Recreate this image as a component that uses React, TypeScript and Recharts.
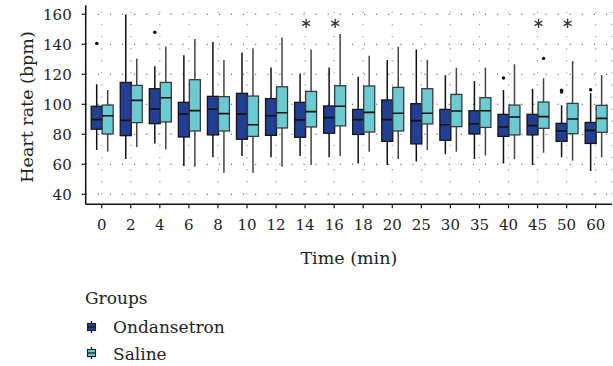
import React from 'react';
import { ComposedChart, Bar, Scatter, XAxis, YAxis, CartesianGrid, Legend } from 'recharts';

const FONT = '"DejaVu Serif", serif';

const times = ['0', '2', '4', '6', '8', '10', '12', '14', '16', '18', '20', '25', '30', '35', '40', '45', '50', '60'];

// Ondansetron group: whisker ends, quartiles, median, outliers
const ondMin = [69.6, 63.5, 73.8, 58.9, 64.7, 65.6, 64.7, 65.6, 64.7, 60.6, 59.5, 61.8, 66.7, 63.5, 60.6, 59.5, 64.7, 55.5];
const ondQ1 = [83.4, 79.1, 87.1, 78.2, 79.6, 76.7, 79.3, 78.0, 80.7, 79.9, 75.3, 73.6, 76.0, 80.2, 78.6, 79.6, 75.3, 73.9];
const ondMed = [89.8, 89.3, 96.9, 93.5, 96.7, 93.6, 92.4, 89.6, 91.1, 89.8, 89.8, 89.1, 86.4, 87.0, 84.9, 85.8, 82.2, 82.6];
const ondQ3 = [98.7, 114.6, 110.4, 101.3, 105.3, 107.3, 103.8, 101.3, 98.9, 96.6, 102.9, 100.4, 96.6, 95.7, 93.3, 93.3, 87.3, 87.9];
const ondMax = [113.3, 159.8, 125.3, 132.7, 141.5, 134.6, 124.6, 120.6, 124.6, 118.4, 129.5, 136.6, 119.3, 115.5, 109.5, 110.4, 99.3, 107.3];
const ondOut = [[140.6], [], [148], [], [], [], [], [], [], [], [], [], [], [], [117.5], [], [109.4, 108.2], [109.7]];

// Saline group
const salMin = [68.5, 71.6, 69.8, 58.4, 54.4, 54.4, 58.4, 59.5, 65.6, 68.4, 63.5, 69.6, 68.4, 65.8, 63.5, 67.7, 62.4, 64.7];
const salQ1 = [80.2, 87.8, 88.2, 82.2, 82.2, 78.6, 84.2, 84.9, 85.6, 81.5, 82.2, 86.9, 85.1, 84.6, 79.6, 84.0, 80.4, 81.3];
const salMed = [92.4, 102.6, 104.4, 95.8, 93.8, 86.4, 94.4, 95.1, 98.7, 94.6, 94.0, 94.0, 95.5, 95.7, 91.5, 91.8, 90.2, 90.6];
const salQ3 = [99.5, 112.6, 114.6, 116.4, 105.1, 105.5, 111.7, 108.6, 112.4, 112.2, 111.3, 110.4, 106.6, 104.4, 99.5, 101.5, 100.6, 99.3];
const salMax = [109.5, 130.4, 138.6, 143.5, 129.6, 137.3, 144.6, 136.6, 146.8, 132.4, 138.4, 129.5, 124.4, 124.4, 126.7, 117.3, 128.8, 119.5];
const salOut = [[], [], [], [], [], [], [], [], [], [], [], [], [], [], [], [130.6], [], []];

// significance asterisks
const sigMarks = [null, null, null, null, null, null, null, 154, 154, null, null, null, null, null, null, 154, 154, null];

const yTicks = [40, 60, 80, 100, 120, 140, 160];
const gridValues = [40, 50, 60, 70, 80, 90, 100, 110, 120, 130, 140, 150, 160];
const groups = ['Ondansetron', 'Saline'];

const styles: Record<string, { fill: string; stroke: string; whisker: string }> = {
  ond: { fill: '#233F94', stroke: '#141414', whisker: '#111' },
  sal: { fill: '#6BCBD3', stroke: '#3a3a3a', whisker: '#444' },
};

const rows = times.map((t, i) => ({
  time: t,
  ond: { lo: ondMin[i], q1: ondQ1[i], med: ondMed[i], q3: ondQ3[i], hi: ondMax[i], out: ondOut[i] },
  sal: { lo: salMin[i], q1: salQ1[i], med: salMed[i], q3: salQ3[i], hi: salMax[i], out: salOut[i] },
  sig: sigMarks[i],
}));

function BoxShape(props: any) {
  const { x, y, width, height, payload, group } = props;
  const st = payload[group];
  const s = styles[group];
  const top = Math.min(y, y + height);
  const bot = Math.max(y, y + height);
  const py = (v: number) => bot - ((v - st.lo) / (st.hi - st.lo)) * (bot - top);
  const cx = x + width / 2;
  return (
    <g>
      <line x1={cx} x2={cx} y1={py(st.hi)} y2={py(st.q3)} stroke={s.whisker} strokeWidth={1.5} />
      <line x1={cx} x2={cx} y1={py(st.q1)} y2={py(st.lo)} stroke={s.whisker} strokeWidth={1.5} />
      <rect x={x} y={py(st.q3)} width={width} height={py(st.q1) - py(st.q3)} fill={s.fill} stroke={s.stroke} strokeWidth={1.3} />
      <line x1={x} x2={x + width} y1={py(st.med)} y2={py(st.med)} stroke="#111" strokeWidth={1.6} />
      {st.out.map((v: number, i: number) => (
        <circle key={i} cx={cx} cy={py(v)} r={1.7} fill="#111" />
      ))}
    </g>
  );
}

function StarShape(props: any) {
  const { cx, cy, payload } = props;
  if (!payload || payload.sig == null || !isFinite(cy)) return <g />;
  const r = 4.6;
  const x0 = cx + 1;
  const arms = [90, 30, -30].map((a) => {
    const rad = (a * Math.PI) / 180;
    const dx = Math.cos(rad) * r;
    const dy = Math.sin(rad) * r;
    return `M${x0 - dx},${cy + dy}L${x0 + dx},${cy - dy}`;
  });
  return <path d={arms.join('')} stroke="#333" strokeWidth={1.3} fill="none" />;
}

function LegendBox() {
  const icon = (cy: number, fill: string) => (
    <g>
      <line x1={11.5} x2={11.5} y1={cy - 6} y2={cy + 6} stroke="#111" strokeWidth={1.3} />
      <rect x={7.5} y={cy - 3.5} width={8} height={7} fill={fill} stroke="#222" strokeWidth={1.1} />
      <line x1={7.5} x2={15.5} y1={cy} y2={cy} stroke="#111" strokeWidth={1.2} />
    </g>
  );
  return (
    <svg width={200} height={82} style={{ display: 'block' }}>
      <text x={5} y={20} fontFamily={FONT} fontSize={17} fill="#222">Groups</text>
      {icon(43, styles.ond.fill)}
      <text x={33} y={49.3} fontFamily={FONT} fontSize={17} fill="#222">{groups[0]}</text>
      {icon(69, styles.sal.fill)}
      <text x={33} y={75.5} fontFamily={FONT} fontSize={17} fill="#222">{groups[1]}</text>
    </svg>
  );
}

function XTitle(props: any) {
  const vb = props.viewBox || { x: 85.7, width: 526.3 };
  return (
    <text x={vb.x + vb.width / 2} y={263.5} textAnchor="middle" fontFamily={FONT} fontSize={17.5} fill="#222">
      Time (min)
    </text>
  );
}

function YTitle() {
  return (
    <text transform="translate(32.5,107) rotate(-90)" textAnchor="middle" fontFamily={FONT} fontSize={17.5} fill="#222">
      Heart rate (bpm)
    </text>
  );
}

export default function App() {
  const frame = { stroke: '#111', strokeWidth: 1.5 };
  const tickStyle = { fontFamily: FONT, fontSize: 15, fill: '#222' };
  return (
    <div style={{ position: 'absolute', left: 0, top: 0, width: 613, height: 366, background: '#fff' }}>
      <ComposedChart
        width={613}
        height={366}
        data={rows}
        barGap={0}
        margin={{ top: 5.3, right: 1, left: 40, bottom: 101.7 }}
      >
        <CartesianGrid horizontal={false} stroke="#a8a8a8" strokeDasharray="1.4 10.7" strokeWidth={1.2} strokeDashoffset={5.7} />
        <CartesianGrid vertical={false} horizontalValues={gridValues} stroke="#444" strokeDasharray="1.1 11" strokeWidth={1.1} />
        <XAxis
          dataKey="time"
          height={60}
          padding={{ left: 1.5, right: 1.8 }}
          axisLine={frame}
          tickLine={{ stroke: '#111', strokeWidth: 1.2 }}
          tickSize={4}
          tickMargin={11}
          tick={tickStyle}
          interval={0}
          label={<XTitle />}
        />
        <XAxis xAxisId="top" orientation="top" dataKey="time" height={0} tick={false} tickLine={false} axisLine={frame} />
        <YAxis
          type="number"
          domain={[33.333, 166]}
          ticks={yTicks}
          allowDataOverflow
          width={45.7}
          axisLine={frame}
          tickLine={{ stroke: '#111', strokeWidth: 1.2 }}
          tickSize={4}
          tickMargin={10}
          tick={tickStyle}
          label={<YTitle />}
        />
        <YAxis yAxisId="right" orientation="right" type="number" domain={[0, 1]} width={0} tick={false} tickLine={false} axisLine={frame} />
        <Bar
          name={groups[0]}
          dataKey={(d: any) => [d.ond.lo, d.ond.hi]}
          barSize={11}
          fill={styles.ond.fill}
          isAnimationActive={false}
          shape={(p: any) => <BoxShape {...p} group="ond" />}
        />
        <Bar
          name={groups[1]}
          dataKey={(d: any) => [d.sal.lo, d.sal.hi]}
          barSize={11}
          fill={styles.sal.fill}
          isAnimationActive={false}
          shape={(p: any) => <BoxShape {...p} group="sal" />}
        />
        <Scatter dataKey="sig" legendType="none" isAnimationActive={false} shape={(p: any) => <StarShape {...p} />} />
        <Legend
          layout="vertical"
          align="center"
          verticalAlign="middle"
          content={() => <LegendBox />}
          wrapperStyle={{ position: 'absolute', left: 80, top: 284, width: 200, height: 82 }}
        />
      </ComposedChart>
    </div>
  );
}
